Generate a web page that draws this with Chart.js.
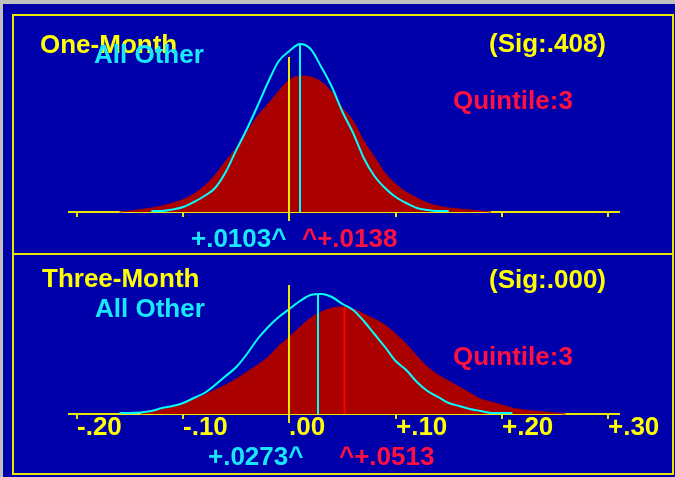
<!DOCTYPE html>
<html>
<head>
<meta charset="utf-8">
<script src="https://cdn.jsdelivr.net/npm/chart.js@4.4.1/dist/chart.umd.min.js"></script>
<style>
  html, body { margin: 0; padding: 0; }
  body { width: 675px; height: 477px; background: #c0c0c0; position: relative; overflow: hidden; }
  #screen { position: absolute; left: 3px; top: 4px; width: 672px; height: 473px; background: #0000aa; }
  #frame { position: absolute; left: 12px; top: 14px; width: 662px; height: 461px; box-sizing: border-box; border: 2px solid #e8e800; }
  #divider { position: absolute; left: 12px; top: 253px; width: 662px; height: 2px; background: #e8e800; }
  canvas { position: absolute; left: 14px; }
  #topChart { top: 16px; }
  #bottomChart { top: 256px; }
</style>
</head>
<body>
<div id="screen"></div>
<div id="frame"></div>
<div id="divider"></div>
<canvas id="topChart" width="658" height="237"></canvas>
<canvas id="bottomChart" width="658" height="217"></canvas>
<script>
// Return grid (x values) shared by all curves
const returnGrid = [
    -0.16, -0.15, -0.14, -0.13, -0.12, -0.11, -0.10, -0.09, -0.08, -0.07,
    -0.06, -0.05, -0.04, -0.03, -0.02, -0.01, 0.00, 0.01, 0.02, 0.03,
    0.04, 0.05, 0.06, 0.07, 0.08, 0.09, 0.10, 0.11, 0.12, 0.13,
    0.14, 0.15, 0.16, 0.17, 0.18, 0.19, 0.20, 0.21, 0.22, 0.23,
    0.24, 0.25, 0.26
];

// Curve heights
const oneMonthQuintile = [
    0, 1, 2.5, 4, 6, 9, 12.5, 18, 26, 37,
    51, 64, 80, 96, 108, 121, 132, 136, 135, 130,
    120, 104, 91, 71, 55, 39, 28, 20, 14, 9,
    6, 4, 3, 2, 1, 0, null, null, null, null,
    null, null, null
];
const oneMonthAllOther = [
    null, null, null, 1, 1, 2.5, 5, 10, 16, 24,
    40, 62, 83, 106, 130, 151, 161, 168, 163, 145,
    125, 100, 79, 54, 36, 24, 15, 9, 4, 2,
    1, 1, null, null, null, null, null, null, null, null,
    null, null, null
];
const threeMonthQuintile = [
    null, null, 0, 2, 5, 8, 10.5, 14.5, 19, 24,
    29, 35, 42, 49, 57, 68, 77, 87, 96, 102,
    106, 107, 105, 100, 95, 89, 80, 70, 58, 47,
    39, 33, 27, 21, 15, 12, 9, 6, 4, 3,
    2, 1, 0
];
const threeMonthAllOther = [
    1, 1, 1.5, 3, 6, 8, 11, 16, 21, 29,
    38, 47, 60, 75, 87, 97, 105, 113, 119, 120,
    117, 110, 104, 93, 80, 67, 53, 44, 32, 23,
    17, 11, 8, 5, 3, 1, 1, 1, null, null,
    null, null, null
];

const tickValues = [-0.20, -0.10, 0.00, 0.10, 0.20, 0.30];
const tickLabels = ['-.20', '-.10', '.00', '+.10', '+.20', '+.30'];

const panelTitles = ['One-Month', 'Three-Month'];
const sigLabels = ['(Sig:.408)', '(Sig:.000)'];
const groupLabel = 'All Other';
const quintileLabel = 'Quintile:3';
const allOtherMeans = [0.0103, 0.0273];
const quintileMeans = [0.0138, 0.0513];
const allOtherMeanLabels = ['+.0103^', '+.0273^'];
const quintileMeanLabels = ['^+.0138', '^+.0513'];

// Colours
const YELLOW = '#ffff00';
const LINE_YELLOW = '#e8e800';
const CYAN = '#00ffff';
const CYAN_TEXT = '#18e8ff';
const DARK_RED = '#aa0000';
const RED_TEXT = '#ff1040';
const FONT = "bold 26px 'Liberation Sans', Arial, sans-serif";

function heightAt(series, v) {
    for (let i = 0; i < returnGrid.length - 1; i++) {
        const x0 = returnGrid[i], x1 = returnGrid[i + 1];
        if (v >= x0 && v <= x1 && series[i] != null && series[i + 1] != null) {
            const t = (v - x0) / (x1 - x0);
            return series[i] + t * (series[i + 1] - series[i]);
        }
    }
    return 0;
}

function toPoints(series) {
    return returnGrid.map((x, i) => ({ x: x, y: series[i] }));
}

const panelDecor = {
    id: 'panelDecor',
    beforeDatasetsDraw(chart, args, opts) {
        const { ctx, chartArea: a } = chart;
        const x = chart.scales.x;
        ctx.save();
        ctx.strokeStyle = LINE_YELLOW;
        ctx.lineWidth = 2;
        ctx.beginPath();
        ctx.moveTo(a.left, a.bottom);
        ctx.lineTo(a.right, a.bottom);
        ctx.stroke();
        // tick marks below the axis
        ctx.beginPath();
        tickValues.forEach(v => {
            const px = Math.round(x.getPixelForValue(v));
            ctx.moveTo(px, a.bottom);
            ctx.lineTo(px, a.bottom + 5);
        });
        ctx.stroke();
        ctx.restore();
    },
    afterDatasetsDraw(chart, args, opts) {
        const { ctx, chartArea: a } = chart;
        const x = chart.scales.x, y = chart.scales.y;
        ctx.save();
        // zero line
        const zx = Math.round(x.getPixelForValue(0));
        ctx.strokeStyle = LINE_YELLOW;
        ctx.lineWidth = 2;
        ctx.beginPath();
        ctx.moveTo(zx, a.top);
        ctx.lineTo(zx, a.bottom + 9);
        ctx.stroke();
        // mean lines
        const p = opts.panel;
        if (opts.showQuintileMean) {
            const mx = Math.round(x.getPixelForValue(quintileMeans[p])) + 0.5;
            ctx.strokeStyle = '#ff0000';
            ctx.lineWidth = 2;
            ctx.beginPath();
            ctx.moveTo(mx, a.bottom);
            ctx.lineTo(mx, y.getPixelForValue(heightAt(opts.quintile, quintileMeans[p])));
            ctx.stroke();
        }
        const cx = Math.round(x.getPixelForValue(allOtherMeans[p]));
        ctx.strokeStyle = CYAN;
        ctx.lineWidth = 2;
        ctx.beginPath();
        ctx.moveTo(cx, a.bottom);
        ctx.lineTo(cx, y.getPixelForValue(heightAt(opts.allOther, allOtherMeans[p])));
        ctx.stroke();
        ctx.restore();
    },
    afterDraw(chart, args, opts) {
        const { ctx } = chart;
        const x = chart.scales.x;
        const p = opts.panel;
        const t = opts.text;
        ctx.save();
        ctx.font = FONT;
        ctx.textAlign = 'left';
        ctx.textBaseline = 'alphabetic';
        ctx.fillStyle = YELLOW;
        ctx.fillText(panelTitles[p], t.title[0], t.title[1]);
        ctx.fillText(sigLabels[p], t.sig[0], t.sig[1]);
        ctx.fillStyle = CYAN_TEXT;
        ctx.fillText(groupLabel, t.group[0], t.group[1]);
        ctx.fillStyle = RED_TEXT;
        ctx.fillText(quintileLabel, t.quintile[0], t.quintile[1]);
        ctx.fillStyle = CYAN_TEXT;
        ctx.fillText(allOtherMeanLabels[p], t.allOtherMean[0], t.allOtherMean[1]);
        ctx.fillStyle = RED_TEXT;
        ctx.fillText(quintileMeanLabels[p], t.quintileMean[0], t.quintileMean[1]);
        if (opts.tickBaseline) {
            ctx.fillStyle = YELLOW;
            tickValues.forEach((v, i) => {
                ctx.fillText(tickLabels[i], Math.round(x.getPixelForValue(v)), opts.tickBaseline);
            });
        }
        ctx.restore();
    }
};

function makeChart(canvasId, quintile, allOther, yMax, padding, decor) {
    return new Chart(document.getElementById(canvasId), {
        type: 'line',
        data: {
            datasets: [
                {
                    label: groupLabel,
                    data: toPoints(allOther),
                    borderColor: CYAN,
                    borderWidth: 2,
                    pointRadius: 0,
                    fill: false,
                    cubicInterpolationMode: 'monotone',
                    spanGaps: false,
                    clip: false
                },
                {
                    label: quintileLabel,
                    data: toPoints(quintile),
                    borderColor: DARK_RED,
                    backgroundColor: DARK_RED,
                    borderWidth: 1,
                    pointRadius: 0,
                    fill: 'origin',
                    cubicInterpolationMode: 'monotone',
                    spanGaps: false,
                    clip: false
                }
            ]
        },
        options: {
            responsive: false,
            animation: false,
            events: [],
            layout: { padding: padding },
            plugins: {
                legend: { display: false },
                tooltip: { enabled: false },
                panelDecor: Object.assign({ quintile: quintile, allOther: allOther }, decor)
            },
            scales: {
                x: { type: 'linear', display: false, min: -0.2085, max: 0.3113 },
                y: { display: false, min: 0, max: yMax }
            }
        },
        plugins: [panelDecor]
    });
}

makeChart('topChart', oneMonthQuintile, oneMonthAllOther, 155,
    { left: 54, right: 52, top: 41, bottom: 41 },
    {
        panel: 0,
        showQuintileMean: false,
        tickBaseline: null,
        text: {
            title: [26, 37], group: [80, 47], sig: [475, 36], quintile: [439, 93],
            allOtherMean: [177, 231], quintileMean: [288, 231]
        }
    });

makeChart('bottomChart', threeMonthQuintile, threeMonthAllOther, 129,
    { left: 54, right: 52, top: 29, bottom: 59 },
    {
        panel: 1,
        showQuintileMean: true,
        tickBaseline: 179,
        text: {
            title: [28, 31], group: [81, 61], sig: [475, 32], quintile: [439, 109],
            allOtherMean: [194, 209], quintileMean: [325, 209]
        }
    });
</script>
</body>
</html>
